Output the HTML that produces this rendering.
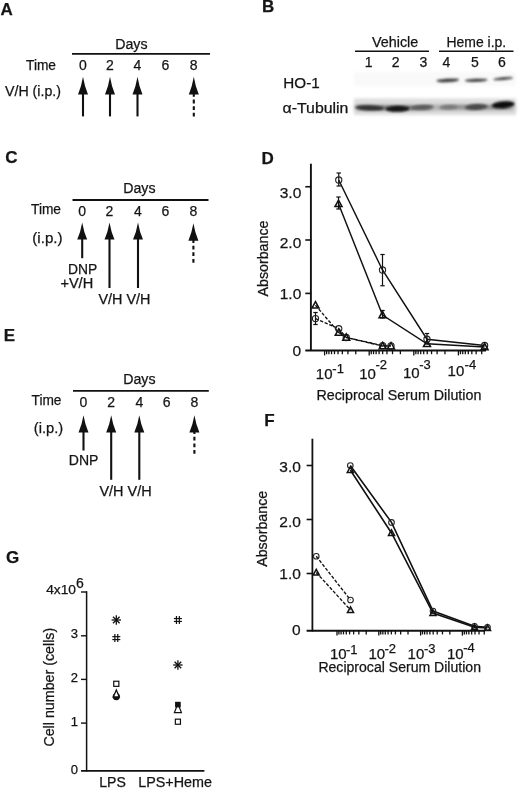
<!DOCTYPE html>
<html><head><meta charset="utf-8"><title>Figure</title>
<style>
html,body{margin:0;padding:0;background:#fff;}
svg{display:block;}
text{font-family:"Liberation Sans",Arial,sans-serif;fill:#151515;stroke:#151515;stroke-width:0.25px;}
</style></head><body>
<svg width="520" height="788" viewBox="0 0 520 788">
<defs>
<filter id="b1" x="-30%" y="-150%" width="160%" height="400%"><feGaussianBlur stdDeviation="1.3 0.9"/></filter>
<filter id="b3" x="-5%" y="-100%" width="110%" height="300%"><feGaussianBlur stdDeviation="2.5 1.6"/></filter>
<filter id="b2" x="-5%" y="-30%" width="110%" height="160%"><feGaussianBlur stdDeviation="1.5"/></filter>
</defs>
<rect width="520" height="788" fill="#fff"/>
<text x="0.6" y="14.5" font-size="17" text-anchor="start" font-weight="bold" >A</text>
<text x="115.2" y="48.5" font-size="14" text-anchor="start" font-weight="normal" textLength="32.3" lengthAdjust="spacingAndGlyphs" >Days</text>
<line x1="72" y1="53.8" x2="210" y2="53.8" stroke="#111" stroke-width="1.8" />
<text x="26" y="69.5" font-size="14" text-anchor="start" font-weight="normal" textLength="30" lengthAdjust="spacingAndGlyphs" >Time</text>
<text x="83" y="69.5" font-size="14" text-anchor="middle" font-weight="normal" >0</text>
<text x="110" y="69.5" font-size="14" text-anchor="middle" font-weight="normal" >2</text>
<text x="137.5" y="69.5" font-size="14" text-anchor="middle" font-weight="normal" >4</text>
<text x="165.5" y="69.5" font-size="14" text-anchor="middle" font-weight="normal" >6</text>
<text x="193.7" y="69.5" font-size="14" text-anchor="middle" font-weight="normal" >8</text>
<text x="5" y="96" font-size="14" text-anchor="start" font-weight="normal" textLength="56" lengthAdjust="spacingAndGlyphs" >V/H (i.p.)</text>
<path d="M83,76.8 Q81.4,86.59 78,94.6 L88,94.6 Q84.6,86.59 83,76.8Z" fill="#111"/>
<line x1="83" y1="93.6" x2="83" y2="116.4" stroke="#111" stroke-width="2.1" />
<path d="M110,76.8 Q108.4,86.59 105,94.6 L115,94.6 Q111.6,86.59 110,76.8Z" fill="#111"/>
<line x1="110" y1="93.6" x2="110" y2="116.4" stroke="#111" stroke-width="2.1" />
<path d="M137.5,76.8 Q135.9,86.59 132.5,94.6 L142.5,94.6 Q139.1,86.59 137.5,76.8Z" fill="#111"/>
<line x1="137.5" y1="93.6" x2="137.5" y2="116.4" stroke="#111" stroke-width="2.1" />
<path d="M193.8,76.8 Q192.20000000000002,86.59 188.8,94.6 L198.8,94.6 Q195.4,86.59 193.8,76.8Z" fill="#111"/>
<line x1="193.8" y1="116.6" x2="193.8" y2="93.6" stroke="#111" stroke-width="2.1"  stroke-dasharray="3.8,2.8"/>
<text x="261.9" y="12.3" font-size="17" text-anchor="start" font-weight="bold" >B</text>
<text x="372" y="46.8" font-size="14.3" text-anchor="start" font-weight="normal" textLength="46.3" lengthAdjust="spacingAndGlyphs" >Vehicle</text>
<text x="446.5" y="46.8" font-size="14.3" text-anchor="start" font-weight="normal" textLength="59.7" lengthAdjust="spacingAndGlyphs" >Heme i.p.</text>
<line x1="355" y1="51.2" x2="429" y2="51.2" stroke="#111" stroke-width="1.6" />
<line x1="439" y1="51.2" x2="513.5" y2="51.2" stroke="#111" stroke-width="1.6" />
<text x="368.6" y="67.3" font-size="14" text-anchor="middle" font-weight="normal" >1</text>
<text x="395.7" y="67.3" font-size="14" text-anchor="middle" font-weight="normal" >2</text>
<text x="423.5" y="67.3" font-size="14" text-anchor="middle" font-weight="normal" >3</text>
<text x="446.4" y="67.3" font-size="14" text-anchor="middle" font-weight="normal" >4</text>
<text x="475" y="67.3" font-size="14" text-anchor="middle" font-weight="normal" >5</text>
<text x="502" y="67.3" font-size="14" text-anchor="middle" font-weight="normal" >6</text>
<text x="283.3" y="87.6" font-size="14" text-anchor="start" font-weight="normal" textLength="36.4" lengthAdjust="spacingAndGlyphs" >HO-1</text>
<text x="282.6" y="113.2" font-size="14" text-anchor="start" font-weight="normal" textLength="65.8" lengthAdjust="spacingAndGlyphs" >α-Tubulin</text>
<rect x="354" y="72" width="162" height="14" fill="#f9f9f9" filter="url(#b2)"/>
<rect x="354" y="98.5" width="162" height="16.5" fill="#dcdcdc" filter="url(#b2)"/>
<rect x="356" y="104.5" width="158" height="6" fill="#b4b4b4" filter="url(#b3)"/>
<rect x="360" y="106.3" width="70" height="3.4" fill="#6a6a6a" filter="url(#b3)"/>
<rect x="444" y="105.6" width="66" height="3" fill="#8a8a8a" filter="url(#b3)"/>
<ellipse cx="447.8" cy="80.3" rx="11.5" ry="1.9" fill="#444" transform="rotate(-3 447.8 80.3)" filter="url(#b1)"/>
<ellipse cx="476.2" cy="80.3" rx="11.5" ry="1.8" fill="#505050" transform="rotate(-2 476.2 80.3)" filter="url(#b1)"/>
<ellipse cx="503.2" cy="78.6" rx="10" ry="1.7" fill="#555" transform="rotate(-5 503.2 78.6)" filter="url(#b1)"/>
<ellipse cx="369.5" cy="107.8" rx="14.5" ry="2.6" fill="#333" transform="rotate(2 369.5 107.8)" filter="url(#b1)"/>
<ellipse cx="397.5" cy="108.8" rx="12" ry="3.0" fill="#161616" transform="rotate(-1 397.5 108.8)" filter="url(#b1)"/>
<ellipse cx="422.5" cy="107.2" rx="11.5" ry="2.2" fill="#5a5a5a" transform="rotate(-3 422.5 107.2)" filter="url(#b1)"/>
<ellipse cx="448.5" cy="107.2" rx="9.5" ry="2.2" fill="#7a7a7a" transform="rotate(-2 448.5 107.2)" filter="url(#b1)"/>
<ellipse cx="476.2" cy="107" rx="11.5" ry="2.9" fill="#484848" transform="rotate(-3 476.2 107)" filter="url(#b1)"/>
<ellipse cx="503.2" cy="104.8" rx="11.5" ry="3.6" fill="#0c0c0c" transform="rotate(-5 503.2 104.8)" filter="url(#b1)"/>
<text x="5.2" y="162.9" font-size="17" text-anchor="start" font-weight="bold" >C</text>
<text x="123.2" y="193.4" font-size="14" text-anchor="start" font-weight="normal" textLength="32.3" lengthAdjust="spacingAndGlyphs" >Days</text>
<line x1="72.5" y1="200" x2="208.5" y2="200" stroke="#111" stroke-width="1.8" />
<text x="31" y="214" font-size="14" text-anchor="start" font-weight="normal" textLength="30" lengthAdjust="spacingAndGlyphs" >Time</text>
<text x="82.2" y="216.4" font-size="14" text-anchor="middle" font-weight="normal" >0</text>
<text x="109.5" y="216.4" font-size="14" text-anchor="middle" font-weight="normal" >2</text>
<text x="138" y="216.4" font-size="14" text-anchor="middle" font-weight="normal" >4</text>
<text x="165.5" y="216.4" font-size="14" text-anchor="middle" font-weight="normal" >6</text>
<text x="193.4" y="216.4" font-size="14" text-anchor="middle" font-weight="normal" >8</text>
<text x="32.3" y="242.5" font-size="14" text-anchor="start" font-weight="normal" textLength="30.2" lengthAdjust="spacingAndGlyphs" >(i.p.)</text>
<path d="M82.2,222.4 Q80.60000000000001,231.86 77.2,239.6 L87.2,239.6 Q83.8,231.86 82.2,222.4Z" fill="#111"/>
<line x1="82.2" y1="238.6" x2="82.2" y2="258.2" stroke="#111" stroke-width="2.1" />
<path d="M109.5,222.4 Q107.9,231.86 104.5,239.6 L114.5,239.6 Q111.1,231.86 109.5,222.4Z" fill="#111"/>
<line x1="109.5" y1="238.6" x2="109.5" y2="288" stroke="#111" stroke-width="2.1" />
<path d="M138,222.4 Q136.4,231.86 133,239.6 L143,239.6 Q139.6,231.86 138,222.4Z" fill="#111"/>
<line x1="138" y1="238.6" x2="138" y2="288" stroke="#111" stroke-width="2.1" />
<path d="M193.4,223.3 Q191.8,232.93 188.4,240.8 L198.4,240.8 Q195.0,232.93 193.4,223.3Z" fill="#111"/>
<line x1="193.4" y1="262.7" x2="193.4" y2="239.8" stroke="#111" stroke-width="2.1"  stroke-dasharray="3.8,2.8"/>
<text x="68" y="273.8" font-size="14.3" text-anchor="start" font-weight="normal" textLength="29.2" lengthAdjust="spacingAndGlyphs" >DNP</text>
<text x="60.4" y="288" font-size="14.2" text-anchor="start" font-weight="normal" textLength="32.8" lengthAdjust="spacingAndGlyphs" >+V/H</text>
<text x="98.5" y="303.5" font-size="14" text-anchor="start" font-weight="normal" textLength="52" lengthAdjust="spacingAndGlyphs" >V/H V/H</text>
<text x="3.8" y="340.9" font-size="17" text-anchor="start" font-weight="bold" >E</text>
<text x="123.2" y="384" font-size="14" text-anchor="start" font-weight="normal" textLength="32.3" lengthAdjust="spacingAndGlyphs" >Days</text>
<line x1="73" y1="390.9" x2="208.8" y2="390.9" stroke="#111" stroke-width="1.8" />
<text x="31.5" y="405.4" font-size="14" text-anchor="start" font-weight="normal" textLength="30" lengthAdjust="spacingAndGlyphs" >Time</text>
<text x="83.5" y="407.4" font-size="14" text-anchor="middle" font-weight="normal" >0</text>
<text x="111.2" y="407.4" font-size="14" text-anchor="middle" font-weight="normal" >2</text>
<text x="139.3" y="407.4" font-size="14" text-anchor="middle" font-weight="normal" >4</text>
<text x="166.6" y="407.4" font-size="14" text-anchor="middle" font-weight="normal" >6</text>
<text x="194.4" y="407.4" font-size="14" text-anchor="middle" font-weight="normal" >8</text>
<text x="33.8" y="432.8" font-size="14" text-anchor="start" font-weight="normal" textLength="29.4" lengthAdjust="spacingAndGlyphs" >(i.p.)</text>
<path d="M83.5,415.2 Q81.9,424.77 78.5,432.6 L88.5,432.6 Q85.1,424.77 83.5,415.2Z" fill="#111"/>
<line x1="83.5" y1="431.6" x2="83.5" y2="450.5" stroke="#111" stroke-width="2.1" />
<path d="M111.2,415.2 Q109.60000000000001,424.77 106.2,432.6 L116.2,432.6 Q112.8,424.77 111.2,415.2Z" fill="#111"/>
<line x1="111.2" y1="431.6" x2="111.2" y2="479.8" stroke="#111" stroke-width="2.1" />
<path d="M139.3,415.2 Q137.70000000000002,424.77 134.3,432.6 L144.3,432.6 Q140.9,424.77 139.3,415.2Z" fill="#111"/>
<line x1="139.3" y1="431.6" x2="139.3" y2="479.8" stroke="#111" stroke-width="2.1" />
<path d="M194.4,415.2 Q192.8,424.77 189.4,432.6 L199.4,432.6 Q196.0,424.77 194.4,415.2Z" fill="#111"/>
<line x1="194.4" y1="453.8" x2="194.4" y2="431.6" stroke="#111" stroke-width="2.1"  stroke-dasharray="3.8,2.8"/>
<text x="68.8" y="465.4" font-size="14.5" text-anchor="start" font-weight="normal" textLength="29.6" lengthAdjust="spacingAndGlyphs" >DNP</text>
<text x="99.4" y="496" font-size="14.3" text-anchor="start" font-weight="normal" textLength="52.3" lengthAdjust="spacingAndGlyphs" >V/H V/H</text>
<text x="261.5" y="163.7" font-size="17" text-anchor="start" font-weight="bold" >D</text>
<line x1="310.9" y1="163.7" x2="310.9" y2="351" stroke="#111" stroke-width="1.9" />
<line x1="305.3" y1="350.4" x2="486" y2="350.4" stroke="#111" stroke-width="2" />
<line x1="305.3" y1="186.75" x2="311.3" y2="186.75" stroke="#111" stroke-width="1.6" />
<line x1="305.3" y1="240" x2="311.3" y2="240" stroke="#111" stroke-width="1.6" />
<line x1="305.3" y1="293.4" x2="311.3" y2="293.4" stroke="#111" stroke-width="1.6" />
<text x="301.3" y="198.2" font-size="15.5" text-anchor="end" font-weight="normal" >3.0</text>
<text x="301.3" y="248.2" font-size="15.5" text-anchor="end" font-weight="normal" >2.0</text>
<text x="301.3" y="298.7" font-size="15.5" text-anchor="end" font-weight="normal" >1.0</text>
<text x="301" y="355.5" font-size="15.5" text-anchor="end" font-weight="normal" >0</text>
<text transform="translate(268,296.5) rotate(-90)" font-size="14" textLength="76" lengthAdjust="spacingAndGlyphs">Absorbance</text>
<line x1="324.6" y1="350.8" x2="324.6" y2="355.40000000000003" stroke="#111" stroke-width="1.3" />
<line x1="326.64" y1="350.8" x2="326.64" y2="354.2" stroke="#111" stroke-width="1.3" />
<line x1="328.92" y1="350.8" x2="328.92" y2="354.2" stroke="#111" stroke-width="1.3" />
<line x1="331.51" y1="350.8" x2="331.51" y2="354.2" stroke="#111" stroke-width="1.3" />
<line x1="334.49" y1="350.8" x2="334.49" y2="354.2" stroke="#111" stroke-width="1.3" />
<line x1="338.03" y1="350.8" x2="338.03" y2="354.2" stroke="#111" stroke-width="1.3" />
<line x1="342.35" y1="350.8" x2="342.35" y2="354.2" stroke="#111" stroke-width="1.3" />
<line x1="347.92" y1="350.8" x2="347.92" y2="354.2" stroke="#111" stroke-width="1.3" />
<line x1="355.77" y1="350.8" x2="355.77" y2="354.2" stroke="#111" stroke-width="1.3" />
<line x1="369.2" y1="350.8" x2="369.2" y2="355.40000000000003" stroke="#111" stroke-width="1.3" />
<line x1="371.24" y1="350.8" x2="371.24" y2="354.2" stroke="#111" stroke-width="1.3" />
<line x1="373.52" y1="350.8" x2="373.52" y2="354.2" stroke="#111" stroke-width="1.3" />
<line x1="376.11" y1="350.8" x2="376.11" y2="354.2" stroke="#111" stroke-width="1.3" />
<line x1="379.09" y1="350.8" x2="379.09" y2="354.2" stroke="#111" stroke-width="1.3" />
<line x1="382.63" y1="350.8" x2="382.63" y2="354.2" stroke="#111" stroke-width="1.3" />
<line x1="386.95" y1="350.8" x2="386.95" y2="354.2" stroke="#111" stroke-width="1.3" />
<line x1="392.52" y1="350.8" x2="392.52" y2="354.2" stroke="#111" stroke-width="1.3" />
<line x1="400.37" y1="350.8" x2="400.37" y2="354.2" stroke="#111" stroke-width="1.3" />
<line x1="413.8" y1="350.8" x2="413.8" y2="355.40000000000003" stroke="#111" stroke-width="1.3" />
<line x1="415.84" y1="350.8" x2="415.84" y2="354.2" stroke="#111" stroke-width="1.3" />
<line x1="418.12" y1="350.8" x2="418.12" y2="354.2" stroke="#111" stroke-width="1.3" />
<line x1="420.71" y1="350.8" x2="420.71" y2="354.2" stroke="#111" stroke-width="1.3" />
<line x1="423.69" y1="350.8" x2="423.69" y2="354.2" stroke="#111" stroke-width="1.3" />
<line x1="427.23" y1="350.8" x2="427.23" y2="354.2" stroke="#111" stroke-width="1.3" />
<line x1="431.55" y1="350.8" x2="431.55" y2="354.2" stroke="#111" stroke-width="1.3" />
<line x1="437.12" y1="350.8" x2="437.12" y2="354.2" stroke="#111" stroke-width="1.3" />
<line x1="444.97" y1="350.8" x2="444.97" y2="354.2" stroke="#111" stroke-width="1.3" />
<line x1="458.4" y1="350.8" x2="458.4" y2="355.40000000000003" stroke="#111" stroke-width="1.3" />
<line x1="460.44" y1="350.8" x2="460.44" y2="354.2" stroke="#111" stroke-width="1.3" />
<line x1="462.72" y1="350.8" x2="462.72" y2="354.2" stroke="#111" stroke-width="1.3" />
<line x1="465.31" y1="350.8" x2="465.31" y2="354.2" stroke="#111" stroke-width="1.3" />
<line x1="468.29" y1="350.8" x2="468.29" y2="354.2" stroke="#111" stroke-width="1.3" />
<line x1="471.83" y1="350.8" x2="471.83" y2="354.2" stroke="#111" stroke-width="1.3" />
<line x1="476.15" y1="350.8" x2="476.15" y2="354.2" stroke="#111" stroke-width="1.3" />
<line x1="481.72" y1="350.8" x2="481.72" y2="354.2" stroke="#111" stroke-width="1.3" />
<text x="315.8" y="378.8" font-size="15" text-anchor="start" font-weight="normal" >10</text>
<text x="332.3" y="373.3" font-size="13" text-anchor="start" font-weight="normal" >-1</text>
<text x="359.2" y="378.8" font-size="15" text-anchor="start" font-weight="normal" >10</text>
<text x="375.4" y="368.8" font-size="13" text-anchor="start" font-weight="normal" >-2</text>
<text x="403.0" y="378.2" font-size="15" text-anchor="start" font-weight="normal" >10</text>
<text x="419.2" y="369.2" font-size="13" text-anchor="start" font-weight="normal" >-3</text>
<text x="447.6" y="376" font-size="15" text-anchor="start" font-weight="normal" >10</text>
<text x="464.6" y="369.2" font-size="13" text-anchor="start" font-weight="normal" >-4</text>
<text x="316.4" y="399.6" font-size="14" text-anchor="start" font-weight="normal" textLength="165" lengthAdjust="spacingAndGlyphs" >Reciprocal Serum Dilution</text>
<polyline points="338.75,180 382.5,270 427,339.2 484.6,345.5" fill="none" stroke="#111" stroke-width="1.45"/>
<polyline points="338.5,203.75 382.5,315 427,343.8 484.6,347" fill="none" stroke="#111" stroke-width="1.45"/>
<line x1="338.75" y1="173" x2="338.75" y2="186" stroke="#111" stroke-width="1.2" />
<line x1="336.55" y1="173" x2="340.95" y2="173" stroke="#111" stroke-width="1.2" />
<line x1="336.55" y1="186" x2="340.95" y2="186" stroke="#111" stroke-width="1.2" />
<line x1="338.5" y1="197" x2="338.5" y2="209" stroke="#111" stroke-width="1.2" />
<line x1="336.3" y1="197" x2="340.7" y2="197" stroke="#111" stroke-width="1.2" />
<line x1="336.3" y1="209" x2="340.7" y2="209" stroke="#111" stroke-width="1.2" />
<line x1="382.5" y1="254.5" x2="382.5" y2="285.75" stroke="#111" stroke-width="1.2" />
<line x1="380.3" y1="254.5" x2="384.7" y2="254.5" stroke="#111" stroke-width="1.2" />
<line x1="380.3" y1="285.75" x2="384.7" y2="285.75" stroke="#111" stroke-width="1.2" />
<line x1="382.5" y1="310.5" x2="382.5" y2="318" stroke="#111" stroke-width="1.2" />
<line x1="380.3" y1="310.5" x2="384.7" y2="310.5" stroke="#111" stroke-width="1.2" />
<line x1="380.3" y1="318" x2="384.7" y2="318" stroke="#111" stroke-width="1.2" />
<line x1="427" y1="333.5" x2="427" y2="344" stroke="#111" stroke-width="1.2" />
<line x1="424.8" y1="333.5" x2="429.2" y2="333.5" stroke="#111" stroke-width="1.2" />
<line x1="424.8" y1="344" x2="429.2" y2="344" stroke="#111" stroke-width="1.2" />
<circle cx="338.75" cy="180" r="3.1" fill="none" stroke="#222" stroke-width="1.1"/>
<circle cx="382.5" cy="270" r="3.1" fill="none" stroke="#222" stroke-width="1.1"/>
<circle cx="427" cy="339.2" r="3.1" fill="none" stroke="#222" stroke-width="1.1"/>
<circle cx="484.6" cy="345.5" r="3.1" fill="none" stroke="#222" stroke-width="1.1"/>
<polygon points="338.5,200.05 334.985,206.525 342.015,206.525" fill="none" stroke="#111" stroke-width="1.5"/>
<polygon points="382.5,311.3 378.985,317.775 386.015,317.775" fill="none" stroke="#111" stroke-width="1.5"/>
<polygon points="427,340.1 423.485,346.575 430.515,346.575" fill="none" stroke="#111" stroke-width="1.5"/>
<polygon points="484.6,343.3 481.08500000000004,349.775 488.115,349.775" fill="none" stroke="#111" stroke-width="1.5"/>
<polyline points="315.5,318.6 338.75,328.75 346.25,337.5 382.7,345.6 391,345.8" fill="none" stroke="#111" stroke-width="1.35" stroke-dasharray="3.3,1.7"/>
<polyline points="315.5,305.3 338.75,332.5 346.25,337.5 382.7,346 391,346.2" fill="none" stroke="#111" stroke-width="1.35" stroke-dasharray="3.3,1.7"/>
<line x1="315.5" y1="312.5" x2="315.5" y2="324.5" stroke="#111" stroke-width="1.2" />
<line x1="313.3" y1="312.5" x2="317.7" y2="312.5" stroke="#111" stroke-width="1.2" />
<line x1="313.3" y1="324.5" x2="317.7" y2="324.5" stroke="#111" stroke-width="1.2" />
<circle cx="315.5" cy="318.6" r="3.1" fill="none" stroke="#222" stroke-width="1.1"/>
<circle cx="338.75" cy="328.75" r="3.1" fill="none" stroke="#222" stroke-width="1.1"/>
<circle cx="346.25" cy="337.5" r="3.1" fill="none" stroke="#222" stroke-width="1.1"/>
<circle cx="382.7" cy="345.6" r="3.1" fill="none" stroke="#222" stroke-width="1.1"/>
<circle cx="391" cy="345.8" r="3.1" fill="none" stroke="#222" stroke-width="1.1"/>
<polygon points="315.5,301.6 311.985,308.075 319.015,308.075" fill="none" stroke="#111" stroke-width="1.5"/>
<polygon points="338.75,328.8 335.235,335.275 342.265,335.275" fill="none" stroke="#111" stroke-width="1.5"/>
<polygon points="346.25,333.8 342.735,340.275 349.765,340.275" fill="none" stroke="#111" stroke-width="1.5"/>
<polygon points="382.7,342.3 379.185,348.775 386.215,348.775" fill="none" stroke="#111" stroke-width="1.5"/>
<polygon points="391,342.5 387.485,348.97499999999997 394.515,348.97499999999997" fill="none" stroke="#111" stroke-width="1.5"/>
<text x="264.2" y="426.2" font-size="17" text-anchor="start" font-weight="bold" >F</text>
<line x1="312.4" y1="438.7" x2="312.4" y2="631.5" stroke="#111" stroke-width="1.8" />
<line x1="306.6" y1="630.8" x2="485" y2="630.8" stroke="#111" stroke-width="1.9" />
<line x1="306.6" y1="465.5" x2="312.5" y2="465.5" stroke="#111" stroke-width="1.6" />
<line x1="306.6" y1="519.5" x2="312.5" y2="519.5" stroke="#111" stroke-width="1.6" />
<line x1="306.6" y1="573.5" x2="312.5" y2="573.5" stroke="#111" stroke-width="1.6" />
<text x="300.9" y="471.5" font-size="15.5" text-anchor="end" font-weight="normal" >3.0</text>
<text x="300.9" y="526.5" font-size="15.5" text-anchor="end" font-weight="normal" >2.0</text>
<text x="300.9" y="578.8" font-size="15.5" text-anchor="end" font-weight="normal" >1.0</text>
<text x="300.6" y="634.9" font-size="15.5" text-anchor="end" font-weight="normal" >0</text>
<text transform="translate(266.8,566.8) rotate(-90)" font-size="14" textLength="76" lengthAdjust="spacingAndGlyphs">Absorbance</text>
<line x1="337.0" y1="631" x2="337.0" y2="635.6" stroke="#111" stroke-width="1.3" />
<line x1="338.91" y1="631" x2="338.91" y2="634.4" stroke="#111" stroke-width="1.3" />
<line x1="341.05" y1="631" x2="341.05" y2="634.4" stroke="#111" stroke-width="1.3" />
<line x1="343.47" y1="631" x2="343.47" y2="634.4" stroke="#111" stroke-width="1.3" />
<line x1="346.27" y1="631" x2="346.27" y2="634.4" stroke="#111" stroke-width="1.3" />
<line x1="349.58" y1="631" x2="349.58" y2="634.4" stroke="#111" stroke-width="1.3" />
<line x1="353.63" y1="631" x2="353.63" y2="634.4" stroke="#111" stroke-width="1.3" />
<line x1="358.86" y1="631" x2="358.86" y2="634.4" stroke="#111" stroke-width="1.3" />
<line x1="366.22" y1="631" x2="366.22" y2="634.4" stroke="#111" stroke-width="1.3" />
<line x1="378.8" y1="631" x2="378.8" y2="635.6" stroke="#111" stroke-width="1.3" />
<line x1="380.71" y1="631" x2="380.71" y2="634.4" stroke="#111" stroke-width="1.3" />
<line x1="382.85" y1="631" x2="382.85" y2="634.4" stroke="#111" stroke-width="1.3" />
<line x1="385.27" y1="631" x2="385.27" y2="634.4" stroke="#111" stroke-width="1.3" />
<line x1="388.07" y1="631" x2="388.07" y2="634.4" stroke="#111" stroke-width="1.3" />
<line x1="391.38" y1="631" x2="391.38" y2="634.4" stroke="#111" stroke-width="1.3" />
<line x1="395.43" y1="631" x2="395.43" y2="634.4" stroke="#111" stroke-width="1.3" />
<line x1="400.66" y1="631" x2="400.66" y2="634.4" stroke="#111" stroke-width="1.3" />
<line x1="408.02" y1="631" x2="408.02" y2="634.4" stroke="#111" stroke-width="1.3" />
<line x1="420.6" y1="631" x2="420.6" y2="635.6" stroke="#111" stroke-width="1.3" />
<line x1="422.51" y1="631" x2="422.51" y2="634.4" stroke="#111" stroke-width="1.3" />
<line x1="424.65" y1="631" x2="424.65" y2="634.4" stroke="#111" stroke-width="1.3" />
<line x1="427.07" y1="631" x2="427.07" y2="634.4" stroke="#111" stroke-width="1.3" />
<line x1="429.87" y1="631" x2="429.87" y2="634.4" stroke="#111" stroke-width="1.3" />
<line x1="433.18" y1="631" x2="433.18" y2="634.4" stroke="#111" stroke-width="1.3" />
<line x1="437.23" y1="631" x2="437.23" y2="634.4" stroke="#111" stroke-width="1.3" />
<line x1="442.46" y1="631" x2="442.46" y2="634.4" stroke="#111" stroke-width="1.3" />
<line x1="449.82" y1="631" x2="449.82" y2="634.4" stroke="#111" stroke-width="1.3" />
<line x1="462.4" y1="631" x2="462.4" y2="635.6" stroke="#111" stroke-width="1.3" />
<line x1="464.31" y1="631" x2="464.31" y2="634.4" stroke="#111" stroke-width="1.3" />
<line x1="466.45" y1="631" x2="466.45" y2="634.4" stroke="#111" stroke-width="1.3" />
<line x1="468.87" y1="631" x2="468.87" y2="634.4" stroke="#111" stroke-width="1.3" />
<line x1="471.67" y1="631" x2="471.67" y2="634.4" stroke="#111" stroke-width="1.3" />
<line x1="474.98" y1="631" x2="474.98" y2="634.4" stroke="#111" stroke-width="1.3" />
<line x1="479.03" y1="631" x2="479.03" y2="634.4" stroke="#111" stroke-width="1.3" />
<line x1="484.26" y1="631" x2="484.26" y2="634.4" stroke="#111" stroke-width="1.3" />
<text x="329.9" y="659.2" font-size="15" text-anchor="start" font-weight="normal" >10</text>
<text x="346" y="653.8" font-size="13" text-anchor="start" font-weight="normal" >-1</text>
<text x="368.4" y="659.2" font-size="15" text-anchor="start" font-weight="normal" >10</text>
<text x="384.4" y="652.7" font-size="13" text-anchor="start" font-weight="normal" >-2</text>
<text x="407.6" y="658.8" font-size="15" text-anchor="start" font-weight="normal" >10</text>
<text x="424" y="653.2" font-size="13" text-anchor="start" font-weight="normal" >-3</text>
<text x="446.9" y="658.8" font-size="15" text-anchor="start" font-weight="normal" >10</text>
<text x="463.2" y="652.2" font-size="13" text-anchor="start" font-weight="normal" >-4</text>
<text x="318.4" y="671.5" font-size="14" text-anchor="start" font-weight="normal" textLength="162.6" lengthAdjust="spacingAndGlyphs" >Reciprocal Serum Dilution</text>
<polyline points="350.3,465.5 391.5,522.4 433,611 474.5,626.3 487.5,627.3" fill="none" stroke="#111" stroke-width="1.6"/>
<polyline points="350.3,470 391.5,533 433,613 474.5,627.3 487.5,628" fill="none" stroke="#111" stroke-width="1.6"/>
<circle cx="350.3" cy="465.5" r="2.8" fill="none" stroke="#222" stroke-width="1.1"/>
<circle cx="391.5" cy="522.4" r="2.8" fill="none" stroke="#222" stroke-width="1.1"/>
<circle cx="433" cy="611" r="2.8" fill="none" stroke="#222" stroke-width="1.1"/>
<circle cx="474.5" cy="626.3" r="2.8" fill="none" stroke="#222" stroke-width="1.1"/>
<circle cx="487.5" cy="627.3" r="2.8" fill="none" stroke="#222" stroke-width="1.1"/>
<polygon points="350.3,466.8 347.26,472.4 353.34000000000003,472.4" fill="none" stroke="#111" stroke-width="1.5"/>
<polygon points="391.5,529.8 388.46,535.4 394.54,535.4" fill="none" stroke="#111" stroke-width="1.5"/>
<polygon points="433,609.8 429.96,615.4 436.04,615.4" fill="none" stroke="#111" stroke-width="1.5"/>
<polygon points="474.5,624.0999999999999 471.46,629.6999999999999 477.54,629.6999999999999" fill="none" stroke="#111" stroke-width="1.5"/>
<polygon points="487.5,624.8 484.46,630.4 490.54,630.4" fill="none" stroke="#111" stroke-width="1.5"/>
<polyline points="316.25,556.25 350.5,600" fill="none" stroke="#111" stroke-width="1.35" stroke-dasharray="3.3,1.7"/>
<polyline points="316.25,572.5 350.5,610" fill="none" stroke="#111" stroke-width="1.35" stroke-dasharray="3.3,1.7"/>
<circle cx="316.25" cy="556.25" r="2.8" fill="none" stroke="#222" stroke-width="1.1"/>
<circle cx="350.5" cy="600" r="2.8" fill="none" stroke="#222" stroke-width="1.1"/>
<polygon points="316.25,569.3 313.21,574.9 319.29,574.9" fill="none" stroke="#111" stroke-width="1.5"/>
<polygon points="350.5,606.8 347.46,612.4 353.54,612.4" fill="none" stroke="#111" stroke-width="1.5"/>
<text x="6" y="562.5" font-size="17" text-anchor="start" font-weight="bold" >G</text>
<line x1="86.6" y1="591.3" x2="86.6" y2="771.5" stroke="#111" stroke-width="1.5" />
<line x1="81" y1="770.8" x2="204.4" y2="770.8" stroke="#111" stroke-width="1.7" />
<line x1="81" y1="592" x2="87" y2="592" stroke="#111" stroke-width="1.4" />
<line x1="81" y1="635.8" x2="87" y2="635.8" stroke="#111" stroke-width="1.4" />
<line x1="81" y1="679.4" x2="87" y2="679.4" stroke="#111" stroke-width="1.4" />
<line x1="81" y1="723.1" x2="87" y2="723.1" stroke="#111" stroke-width="1.4" />
<text x="46.2" y="594.3" font-size="13" text-anchor="start" font-weight="normal" textLength="29.8" lengthAdjust="spacingAndGlyphs" >4x10</text>
<text x="76" y="588.2" font-size="14" text-anchor="start" font-weight="normal" >6</text>
<text x="77.9" y="638.3" font-size="13" text-anchor="end" font-weight="normal" >3</text>
<text x="77.9" y="681.5" font-size="13" text-anchor="end" font-weight="normal" >2</text>
<text x="77.9" y="725.9" font-size="13" text-anchor="end" font-weight="normal" >1</text>
<text x="77.9" y="774.3" font-size="13" text-anchor="end" font-weight="normal" >0</text>
<text transform="translate(53.6,746.6) rotate(-90)" font-size="14" textLength="118.8" lengthAdjust="spacingAndGlyphs">Cell number (cells)</text>
<text x="99.2" y="787.2" font-size="14" text-anchor="start" font-weight="normal" textLength="26.6" lengthAdjust="spacingAndGlyphs" >LPS</text>
<text x="138.2" y="787.2" font-size="14" text-anchor="start" font-weight="normal" textLength="73.8" lengthAdjust="spacingAndGlyphs" >LPS+Heme</text>
<line x1="111.6" y1="620.0" x2="121.0" y2="620.0" stroke="#111" stroke-width="1.3" />
<line x1="112.98" y1="616.68" x2="119.62" y2="623.32" stroke="#111" stroke-width="1.3" />
<line x1="116.3" y1="615.3" x2="116.3" y2="624.7" stroke="#111" stroke-width="1.3" />
<line x1="119.62" y1="616.68" x2="112.98" y2="623.32" stroke="#111" stroke-width="1.3" />
<line x1="114.85" y1="634.1" x2="114.85" y2="642.1" stroke="#111" stroke-width="1.2" />
<line x1="112.3" y1="636.65" x2="120.3" y2="636.65" stroke="#111" stroke-width="1.2" />
<line x1="117.75" y1="634.1" x2="117.75" y2="642.1" stroke="#111" stroke-width="1.2" />
<line x1="112.3" y1="639.5500000000001" x2="120.3" y2="639.5500000000001" stroke="#111" stroke-width="1.2" />
<rect x="113.75" y="681.25" width="5.1" height="5.1" fill="none" stroke="#111" stroke-width="1.2"/>
<circle cx="116.3" cy="696.6" r="3.6" fill="#111"/>
<polygon points="116.3,690 113.3,697 119.3,697" fill="#fff" stroke="#111" stroke-width="1.3"/>
<line x1="176.45000000000002" y1="616.0" x2="176.45000000000002" y2="624.0" stroke="#111" stroke-width="1.2" />
<line x1="173.9" y1="618.55" x2="181.9" y2="618.55" stroke="#111" stroke-width="1.2" />
<line x1="179.35" y1="616.0" x2="179.35" y2="624.0" stroke="#111" stroke-width="1.2" />
<line x1="173.9" y1="621.45" x2="181.9" y2="621.45" stroke="#111" stroke-width="1.2" />
<line x1="173.2" y1="665.0" x2="182.6" y2="665.0" stroke="#111" stroke-width="1.3" />
<line x1="174.58" y1="661.68" x2="181.22" y2="668.32" stroke="#111" stroke-width="1.3" />
<line x1="177.9" y1="660.3" x2="177.9" y2="669.7" stroke="#111" stroke-width="1.3" />
<line x1="181.22" y1="661.68" x2="174.58" y2="668.32" stroke="#111" stroke-width="1.3" />
<polygon points="177.9,703.5 174.4,712.6 181.4,712.6" fill="#fff" stroke="#111" stroke-width="1.2"/>
<rect x="175.70000000000002" y="702.4" width="4.4" height="4.4" fill="#111" stroke="#111" stroke-width="1.2"/>
<rect x="175.35" y="719.1500000000001" width="5.1" height="5.1" fill="none" stroke="#111" stroke-width="1.2"/>
</svg>
</body></html>
